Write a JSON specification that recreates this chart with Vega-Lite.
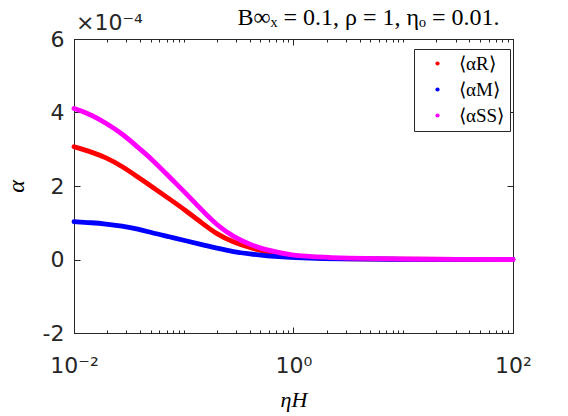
{
  "$schema": "https://vega.github.io/schema/vega-lite/v6.json",
  "width": 439,
  "height": 294,
  "autosize": {"type": "none"},
  "padding": {"left": 74, "top": 39, "right": 55, "bottom": 83},
  "background": "white",
  "title": {
    "text": "B∞ₓ = 0.1,  ρ = 1,  ηₒ = 0.01.",
    "font": "Liberation Serif",
    "fontSize": 24,
    "fontWeight": "normal",
    "color": "#000000",
    "anchor": "middle",
    "frame": "group",
    "dx": 75,
    "baseline": "alphabetic",
    "offset": -37
  },
  "config": {
    "view": {"stroke": "#262626", "strokeWidth": 1},
    "axis": {"grid": false, "domainColor": "#262626", "tickColor": "#262626", "labelColor": "#262626"}
  },
  "datasets": {
    "curves": [
      {"series": "R", "eta_H": 0.01, "alpha": 3.07e-4},
      {"series": "R", "eta_H": 0.0146, "alpha": 2.92e-4},
      {"series": "R", "eta_H": 0.0193, "alpha": 2.78e-4},
      {"series": "R", "eta_H": 0.0274, "alpha": 2.54e-4},
      {"series": "R", "eta_H": 0.0383, "alpha": 2.24e-4},
      {"series": "R", "eta_H": 0.0521, "alpha": 1.97e-4},
      {"series": "R", "eta_H": 0.0738, "alpha": 1.65e-4},
      {"series": "R", "eta_H": 0.1047, "alpha": 1.33e-4},
      {"series": "R", "eta_H": 0.1466, "alpha": 0.99e-4},
      {"series": "R", "eta_H": 0.1995, "alpha": 0.69e-4},
      {"series": "R", "eta_H": 0.2828, "alpha": 0.47e-4},
      {"series": "R", "eta_H": 0.4018, "alpha": 0.32e-4},
      {"series": "R", "eta_H": 0.5615, "alpha": 0.21e-4},
      {"series": "R", "eta_H": 0.929, "alpha": 0.10e-4},
      {"series": "R", "eta_H": 1.63, "alpha": 0.04e-4},
      {"series": "R", "eta_H": 2.88, "alpha": 0.02e-4},
      {"series": "R", "eta_H": 10, "alpha": 0.005e-4},
      {"series": "R", "eta_H": 31.6, "alpha": 0},
      {"series": "R", "eta_H": 100, "alpha": 0},
      {"series": "M", "eta_H": 0.01, "alpha": 1.03e-4},
      {"series": "M", "eta_H": 0.0146, "alpha": 1.00e-4},
      {"series": "M", "eta_H": 0.0193, "alpha": 0.97e-4},
      {"series": "M", "eta_H": 0.0274, "alpha": 0.91e-4},
      {"series": "M", "eta_H": 0.0383, "alpha": 0.83e-4},
      {"series": "M", "eta_H": 0.0521, "alpha": 0.72e-4},
      {"series": "M", "eta_H": 0.0738, "alpha": 0.62e-4},
      {"series": "M", "eta_H": 0.1047, "alpha": 0.51e-4},
      {"series": "M", "eta_H": 0.1466, "alpha": 0.40e-4},
      {"series": "M", "eta_H": 0.1995, "alpha": 0.31e-4},
      {"series": "M", "eta_H": 0.2828, "alpha": 0.21e-4},
      {"series": "M", "eta_H": 0.4018, "alpha": 0.15e-4},
      {"series": "M", "eta_H": 0.5615, "alpha": 0.10e-4},
      {"series": "M", "eta_H": 0.929, "alpha": 0.055e-4},
      {"series": "M", "eta_H": 1.63, "alpha": 0.03e-4},
      {"series": "M", "eta_H": 2.88, "alpha": 0.015e-4},
      {"series": "M", "eta_H": 10, "alpha": 0.005e-4},
      {"series": "M", "eta_H": 31.6, "alpha": 0},
      {"series": "M", "eta_H": 100, "alpha": 0},
      {"series": "SS", "eta_H": 0.01, "alpha": 4.11e-4},
      {"series": "SS", "eta_H": 0.0146, "alpha": 3.93e-4},
      {"series": "SS", "eta_H": 0.0193, "alpha": 3.72e-4},
      {"series": "SS", "eta_H": 0.0274, "alpha": 3.43e-4},
      {"series": "SS", "eta_H": 0.0383, "alpha": 3.05e-4},
      {"series": "SS", "eta_H": 0.0521, "alpha": 2.71e-4},
      {"series": "SS", "eta_H": 0.0738, "alpha": 2.25e-4},
      {"series": "SS", "eta_H": 0.1047, "alpha": 1.80e-4},
      {"series": "SS", "eta_H": 0.1466, "alpha": 1.34e-4},
      {"series": "SS", "eta_H": 0.1995, "alpha": 0.94e-4},
      {"series": "SS", "eta_H": 0.2828, "alpha": 0.62e-4},
      {"series": "SS", "eta_H": 0.4018, "alpha": 0.40e-4},
      {"series": "SS", "eta_H": 0.5615, "alpha": 0.26e-4},
      {"series": "SS", "eta_H": 0.929, "alpha": 0.12e-4},
      {"series": "SS", "eta_H": 1.63, "alpha": 0.07e-4},
      {"series": "SS", "eta_H": 2.88, "alpha": 0.04e-4},
      {"series": "SS", "eta_H": 10, "alpha": 0.01e-4},
      {"series": "SS", "eta_H": 31.6, "alpha": 0.003e-4},
      {"series": "SS", "eta_H": 100, "alpha": 0}
    ]
  },
  "layer": [
    {
      "data": {"name": "curves"},
      "mark": {"type": "line", "strokeWidth": 4.8, "interpolate": "basis", "strokeCap": "round"},
      "encoding": {
        "x": {
          "field": "eta_H",
          "type": "quantitative",
          "scale": {"type": "log", "domain": [0.01, 100], "nice": false},
          "axis": {
            "orient": "bottom",
            "values": [0.01, 0.02, 0.03, 0.04, 0.05, 0.06, 0.07, 0.08, 0.09, 0.1, 0.2, 0.3, 0.4, 0.5, 0.6, 0.7, 0.8, 0.9, 1, 2, 3, 4, 5, 6, 7, 8, 9, 10, 20, 30, 40, 50, 60, 70, 80, 90, 100],
            "labelExpr": "datum.value == 0.01 ? '10⁻²' : datum.value == 1 ? '10⁰' : datum.value == 100 ? '10²' : ''",
            "labelOverlap": false,
            "labelFlush": false,
            "labelFont": "DejaVu Sans",
            "labelFontSize": 22,
            "labelPadding": 28,
            "tickSize": {"condition": {"test": "indexof([0.01, 1, 100], datum.value) >= 0", "value": -6}, "value": -3},
            "title": "ηH",
            "titleFont": "Liberation Serif",
            "titleFontStyle": "italic",
            "titleFontWeight": "normal",
            "titleFontSize": 22,
            "titleColor": "#000000",
            "titlePadding": 10
          }
        },
        "y": {
          "field": "alpha",
          "type": "quantitative",
          "scale": {"domain": [-0.0002, 0.0006], "nice": false, "zero": false},
          "axis": {
            "orient": "left",
            "values": [-0.0002, 0, 0.0002, 0.0004, 0.0006],
            "labelExpr": "round(datum.value * 10000) + ''",
            "labelFont": "DejaVu Sans",
            "labelFontSize": 22,
            "labelPadding": 16,
            "tickSize": -6,
            "title": "α",
            "titleFont": "Liberation Serif",
            "titleFontStyle": "italic",
            "titleFontWeight": "normal",
            "titleFontSize": 24,
            "titleColor": "#000000",
            "titlePadding": 14
          }
        },
        "color": {
          "field": "series",
          "type": "nominal",
          "scale": {"domain": ["R", "M", "SS"], "range": ["#ff0000", "#0000ff", "#ff00ff"]},
          "legend": {
            "orient": "none",
            "legendX": 340,
            "legendY": 10,
            "title": null,
            "strokeColor": "#262626",
            "fillColor": "white",
            "padding": 5,
            "rowPadding": 6,
            "symbolType": "circle",
            "symbolSize": 18,
            "symbolStrokeWidth": 0,
            "symbolOffset": 9,
            "labelOffset": 12,
            "labelFont": "Liberation Serif",
            "labelFontSize": 19,
            "labelColor": "#000000",
            "labelExpr": "'⟨α' + datum.label + '⟩  '",
            "encode": {
              "symbols": {"update": {"fill": {"scale": "color", "field": "value"}, "strokeWidth": {"value": 0}}}
            }
          }
        }
      }
    },
    {
      "data": {"name": "curves"},
      "mark": {"type": "line", "strokeOpacity": 0},
      "encoding": {
        "x": {
          "field": "eta_H",
          "type": "quantitative",
          "scale": {"type": "log", "domain": [0.01, 100], "nice": false},
          "axis": {
            "orient": "top",
            "values": [0.01, 0.02, 0.03, 0.04, 0.05, 0.06, 0.07, 0.08, 0.09, 0.1, 0.2, 0.3, 0.4, 0.5, 0.6, 0.7, 0.8, 0.9, 1, 2, 3, 4, 5, 6, 7, 8, 9, 10, 20, 30, 40, 50, 60, 70, 80, 90, 100],
            "labels": false,
            "tickSize": {"condition": {"test": "indexof([0.01, 1, 100], datum.value) >= 0", "value": -6}, "value": -3},
            "title": null
          }
        },
        "y": {
          "field": "alpha",
          "type": "quantitative",
          "scale": {"domain": [-0.0002, 0.0006], "nice": false, "zero": false},
          "axis": {
            "orient": "right",
            "values": [-0.0002, 0, 0.0002, 0.0004, 0.0006],
            "labels": false,
            "tickSize": -6,
            "title": null
          }
        }
      }
    },
    {
      "data": {"values": [{"t": "×10⁻⁴"}]},
      "mark": {"type": "text", "align": "left", "baseline": "alphabetic", "dx": 2, "dy": -9, "font": "DejaVu Sans", "fontSize": 22, "color": "#262626"},
      "encoding": {
        "x": {"datum": 0.01, "type": "quantitative", "axis": null},
        "y": {"datum": 0.0006, "type": "quantitative", "axis": null},
        "text": {"field": "t"}
      }
    }
  ],
  "resolve": {"axis": {"x": "independent", "y": "independent"}}
}
